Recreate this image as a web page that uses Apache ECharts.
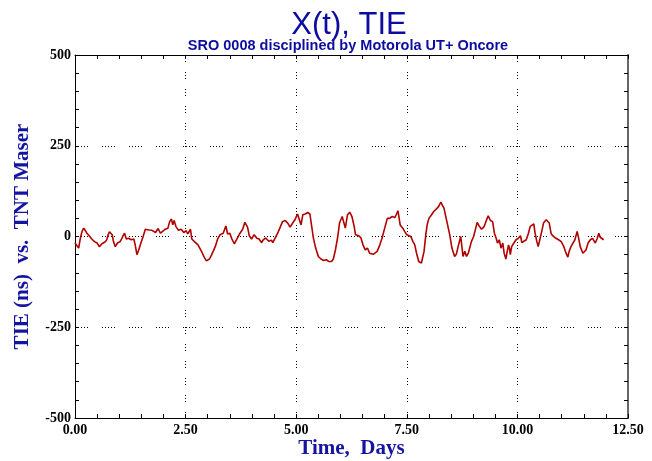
<!DOCTYPE html>
<html>
<head>
<meta charset="utf-8">
<script src="https://cdn.jsdelivr.net/npm/echarts@6/dist/echarts.min.js"></script>
<style>html,body{margin:0;padding:0;background:#fff;}#c{width:652px;height:461px;}</style>
</head>
<body>
<div id="c"></div>
<script>
const titleText = 'X(t), TIE';
const subtitleText = 'SRO 0008 disciplined by Motorola UT+ Oncore';
const xName = 'Time,  Days';
const yName = 'TIE (ns)  vs.  TNT Maser';
const xTicks = [0, 2.5, 5, 7.5, 10, 12.5];
const yTicks = [-500, -250, 0, 250, 500];

const days = [0.00,0.045,0.083,0.12,0.16,0.196,0.23,0.27,0.32,0.38,0.44,0.47,0.50,0.55,0.58,0.61,0.65,0.69,0.72,0.75,0.78,0.84,0.87,0.91,0.96,1.02,1.06,1.09,1.12,1.16,1.21,1.24,1.27,1.30,1.33,1.36,1.40,1.44,1.49,1.54,1.59,1.63,1.67,1.70,1.74,1.78,1.82,1.88,1.93,1.98,2.04,2.10,2.14,2.18,2.21,2.24,2.28,2.34,2.40,2.46,2.51,2.55,2.61,2.64,2.70,2.78,2.86,2.92,2.97,3.00,3.04,3.09,3.17,3.23,3.28,3.35,3.41,3.45,3.50,3.54,3.60,3.65,3.73,3.79,3.84,3.90,3.94,3.96,3.99,4.05,4.08,4.11,4.16,4.19,4.22,4.25,4.28,4.31,4.34,4.38,4.41,4.44,4.47,4.52,4.58,4.63,4.69,4.75,4.81,4.86,4.91,4.97,5.03,5.06,5.11,5.15,5.20,5.26,5.31,5.35,5.39,5.44,5.50,5.56,5.62,5.68,5.74,5.80,5.84,5.89,5.94,5.98,6.04,6.08,6.11,6.16,6.21,6.26,6.31,6.34,6.40,6.46,6.51,6.56,6.61,6.66,6.74,6.77,6.83,6.89,6.94,7.00,7.06,7.11,7.17,7.23,7.26,7.30,7.35,7.41,7.45,7.50,7.54,7.59,7.64,7.68,7.72,7.77,7.83,7.89,7.93,7.96,8.00,8.06,8.11,8.17,8.22,8.27,8.30,8.34,8.39,8.47,8.52,8.58,8.62,8.66,8.70,8.72,8.77,8.81,8.85,8.89,8.92,8.96,9.01,9.04,9.09,9.14,9.19,9.25,9.31,9.34,9.39,9.44,9.48,9.52,9.55,9.59,9.63,9.67,9.70,9.74,9.77,9.80,9.82,9.84,9.87,9.92,9.97,10.02,10.07,10.10,10.14,10.20,10.25,10.29,10.32,10.37,10.40,10.44,10.47,10.51,10.55,10.59,10.65,10.68,10.72,10.76,10.79,10.82,10.87,10.90,10.93,10.96,10.99,11.05,11.10,11.14,11.17,11.21,11.25,11.30,11.35,11.38,11.42,11.48,11.51,11.55,11.60,11.65,11.70,11.76,11.80,11.84,11.87,11.90,11.95];
const tie = [-18,-23,-32,-5,14,23,17,9,2,-7,-14,-12,-18,-28,-24,-20,-17,-14,-8,5,13,5,-14,-28,-18,-14,-5,3,9,-7,-5,-10,-9,-4,-7,-23,-50,-37,-18,0,20,21,18,15,17,19,11,22,9,14,20,23,41,48,32,44,28,17,20,11,16,7,20,-7,-14,-23,-41,-57,-67,-69,-62,-50,-28,-5,5,9,29,7,9,-5,-20,-9,9,20,39,26,2,-1,-7,5,0,-5,-7,-12,-17,-10,-7,-4,-9,-13,-11,-10,-17,-5,9,23,41,44,37,26,35,46,62,57,32,60,62,66,62,28,-5,-32,-55,-62,-66,-64,-69,-69,-62,-35,0,38,55,50,23,60,67,55,28,5,3,-3,-23,-37,-32,-46,-49,-52,-41,-23,-5,23,50,50,55,52,60,71,32,23,14,5,9,0,-14,-23,-46,-69,-73,-41,5,32,50,60,69,76,83,95,87,78,50,5,-32,-55,-49,-28,-9,0,-55,-41,-55,-46,-41,-14,0,14,39,28,20,28,48,57,44,41,9,-5,-18,-9,-32,-18,-46,-62,-41,-23,-32,-50,-28,-18,-9,-5,2,-17,-14,-9,9,28,29,35,9,-14,-28,-7,14,37,46,48,37,9,3,-2,-5,-4,-9,-12,-14,-28,-46,-57,-41,-28,-26,-9,14,-2,-28,-46,-50,-37,-17,-9,-5,-18,-7,9,-2,2,-9];

const seriesData = days.map((d, i) => [d, tie[i]]);

const chart = echarts.init(document.getElementById('c'), null, {renderer: 'canvas'});
const labelFont = {fontFamily: 'Liberation Serif', fontWeight: 'bold', fontSize: 14, color: '#000'};
const nameFont = {fontFamily: 'Liberation Serif', fontWeight: 'bold', fontSize: 21, color: '#1414a0'};
const tickCommon = {
  axisTick: {inside: true, length: 4, lineStyle: {color: '#000'}},
  minorTick: {show: true, splitNumber: 5, length: 4, lineStyle: {color: '#000'}}
};
chart.setOption({
  animation: false,
  backgroundColor: '#fff',
  title: [
    {text: titleText, left: 344, top: 5, textAlign: 'center',
     textStyle: {fontFamily: 'Liberation Sans', fontSize: 31, fontWeight: 'normal', color: '#0c0ca0'}},
    {text: subtitleText, left: 343, top: 33, textAlign: 'center',
     textStyle: {fontFamily: 'Liberation Sans', fontSize: 14.5, fontWeight: 'bold', color: '#0c0ca0'}}
  ],
  grid: {left: 75, right: 24, top: 55, bottom: 43, containLabel: false, outerBoundsMode: 'none'},
  xAxis: [
    Object.assign({type: 'value', min: 0, max: 12.5, interval: 2.5, position: 'bottom',
     name: xName, nameLocation: 'middle', nameGap: 20, nameMoveOverlap: false, nameTextStyle: nameFont,
     axisLine: {onZero: false, lineStyle: {color: '#000', width: 1}},
     axisLabel: Object.assign({formatter: v => v.toFixed(2), margin: 5}, labelFont),
     splitLine: {show: true, lineStyle: {color: '#000', width: 1, type: [1, 2, 1, 2, 1, 10]}}}, tickCommon),
    Object.assign({type: 'value', min: 0, max: 12.5, interval: 2.5, position: 'top',
     axisLine: {onZero: false, lineStyle: {color: '#000', width: 1}},
     axisLabel: {show: false}, splitLine: {show: false}}, tickCommon)
  ],
  yAxis: [
    Object.assign({type: 'value', min: -500, max: 500, interval: 250, position: 'left',
     name: yName, nameLocation: 'middle', nameGap: 42, nameMoveOverlap: false, nameTextStyle: nameFont,
     axisLine: {onZero: false, lineStyle: {color: '#000', width: 1}},
     axisLabel: Object.assign({margin: 4}, labelFont),
     splitLine: {show: true, lineStyle: {color: '#000', width: 1, type: [1, 2, 1, 2, 1, 2, 1, 2, 1, 14]}}}, tickCommon),
    Object.assign({type: 'value', min: -500, max: 500, interval: 250, position: 'right',
     axisLine: {onZero: false, lineStyle: {color: '#666', width: 2}},
     axisLabel: {show: false}, splitLine: {show: false}}, tickCommon)
  ],
  series: [{
    type: 'line', data: seriesData, showSymbol: false, xAxisIndex: 0, yAxisIndex: 0,
    lineStyle: {color: '#b00000', width: 1.6}, z: 5
  }]
});
</script>
</body>
</html>
